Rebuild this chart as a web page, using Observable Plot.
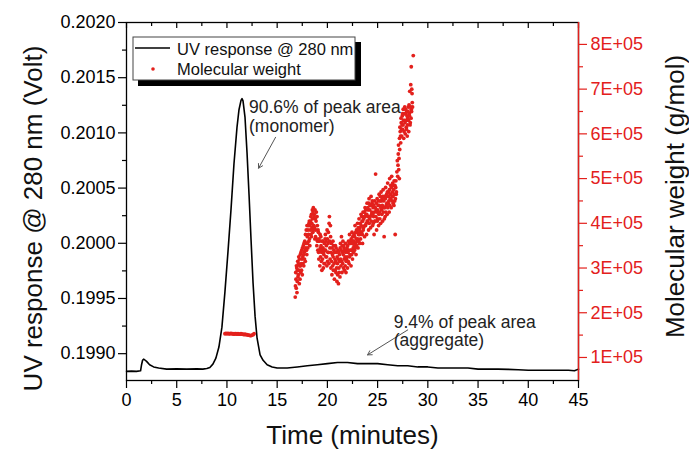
<!DOCTYPE html>
<html><head><meta charset="utf-8">
<script src="https://cdn.jsdelivr.net/npm/d3@7"></script>
<script src="https://cdn.jsdelivr.net/npm/@observablehq/plot@0.6"></script>
<style>
body{margin:0;background:#fff}
#wrap{position:relative;width:689px;height:450px}
#wrap svg{position:absolute;left:0;top:0}
</style>
</head><body><div id="wrap"></div>
<script>
// ---------- data ----------
const uvTime = [0,0.5,1.0,1.4,1.5,1.6,1.7,1.8,2.0,2.3,2.7,3.2,4,5,6,7,7.6,8.0,8.3,8.6,8.9,9.2,9.5,9.8,10.1,10.4,10.7,11.0,11.2,11.4,11.5,11.6,11.8,12.0,12.2,12.4,12.6,12.8,13.0,13.3,13.6,14.0,14.5,15,16,17,18,19,20,21,22,23,24,25,26,27,28,29,30,31,32,33,34,35,36,37,38,39,40,41,42,43,44,44.6,45];
const uvValue = [0.19884,0.198842,0.19884,0.198845,0.19890,0.19894,0.19895,0.198945,0.19893,0.19890,0.19888,0.19887,0.19886,0.198862,0.19886,0.198862,0.19886,0.198865,0.198875,0.198905,0.19896,0.19906,0.19924,0.19956,0.19992,0.20030,0.20072,0.20105,0.20121,0.201295,0.20131,0.20129,0.20114,0.20082,0.20044,0.20003,0.19964,0.19934,0.19914,0.19899,0.19894,0.19890,0.19888,0.19887,0.19887,0.19888,0.19889,0.19890,0.19891,0.19892,0.19892,0.19891,0.19891,0.19891,0.19890,0.19889,0.19889,0.19888,0.19888,0.19887,0.19887,0.19887,0.19887,0.19886,0.19886,0.19886,0.198858,0.198855,0.19885,0.19885,0.19885,0.19885,0.19885,0.198845,0.19886];

// molecular weight, in units of 1E+05 g/mol
const monoTime = [9.8,9.9,10.0,10.1,10.2,10.3,10.4,10.5,10.6,10.7,10.8,10.9,11.0,11.1,11.2,11.3,11.4,11.5,11.6,11.7,11.8,11.9,12.0,12.1,12.2,12.3,12.4,12.5,12.6,12.7];
const monoMW   = [1.53,1.54,1.53,1.54,1.53,1.53,1.54,1.53,1.53,1.52,1.53,1.53,1.52,1.53,1.52,1.52,1.53,1.52,1.52,1.51,1.52,1.51,1.51,1.50,1.50,1.49,1.49,1.50,1.51,1.53];

const aggTime = [16.80,16.85,16.90,16.95,17.00,17.05,17.10,17.15,17.20,17.25,17.30,17.35,17.40,17.45,17.50,17.55,17.60,17.65,17.70,17.75,17.80,17.85,17.90,17.95,18.00,18.05,18.10,18.15,18.20,18.25,18.30,18.35,18.40,18.45,18.50,18.55,18.60,18.65,18.70,18.75,18.80,18.85,18.90,18.95,19.00,19.05,19.10,19.15,19.20,19.25,19.30,19.35,19.40,19.45,19.50,19.55,19.60,19.65,19.70,19.75,19.80,19.85,19.90,19.95,20.00,20.05,20.10,20.15,20.20,20.25,20.30,20.35,20.40,20.45,20.50,20.55,20.60,20.65,20.70,20.75,20.80,20.85,20.90,20.95,21.00,21.05,21.10,21.15,21.20,21.25,21.30,21.35,21.40,21.45,21.50,21.55,21.60,21.65,21.70,21.75,21.80,21.85,21.90,21.95,22.00,22.05,22.10,22.15,22.20,22.25,22.30,22.35,22.40,22.45,22.50,22.55,22.60,22.65,22.70,22.75,22.80,22.85,22.90,22.95,23.00,23.05,23.10,23.15,23.20,23.25,23.30,23.35,23.40,23.45,23.50,23.55,23.60,23.65,23.70,23.75,23.80,23.85,23.90,23.95,24.00,24.05,24.10,24.15,24.20,24.25,24.30,24.35,24.40,24.45,24.50,24.55,24.60,24.65,24.70,24.75,24.80,24.85,24.90,24.95,25.00,25.05,25.10,25.15,25.20,25.25,25.30,25.35,25.40,25.45,25.50,25.55,25.60,25.65,25.70,25.75,25.80,25.85,25.90,25.95,26.00,26.05,26.10,26.15,26.20,26.25,26.30,26.35,26.40,26.45,26.50,26.55,26.60,26.65,26.70,26.75,26.80,26.85,27.00,27.03,27.06,27.10,27.13,27.16,27.20,27.25,27.30,27.35,27.40,27.45,27.50,27.55,27.60,27.65,27.70,27.75,27.80,27.85,27.90,27.95,28.00,28.05,28.10,28.15,28.20,28.25,28.30,28.35,28.40,28.45,28.35,28.55,
  16.82,16.87,16.92,16.97,17.02,17.07,17.12,17.17,17.22,17.27,17.32,17.37,17.42,17.47,17.52,17.57,17.62,17.67,17.72,17.77,17.82,17.87,17.92,17.97,18.02,18.07,18.12,18.17,18.22,18.27,18.32,18.37,18.42,18.47,18.52,18.57,18.62,18.67,18.72,18.77,18.82,18.87,18.92,18.97,19.02,19.07,19.12,19.17,19.22,19.27,19.32,19.37,19.42,19.47,19.52,19.57,19.62,19.67,19.72,19.77,19.82,19.87,19.92,19.97,20.02,20.07,20.12,20.17,20.22,20.27,20.32,20.37,20.42,20.47,20.52,20.57,20.62,20.67,20.72,20.77,20.82,20.87,20.92,20.97,21.02,21.07,21.12,21.17,21.22,21.27,21.32,21.37,21.42,21.47,21.52,21.57,21.62,21.67,21.72,21.77,21.82,21.87,21.92,21.97,22.02,22.07,22.12,22.17,22.22,22.27,22.32,22.37,22.42,22.47,22.52,22.57,22.62,22.67,22.72,22.77,22.82,22.87,22.92,22.97,23.02,23.07,23.12,23.17,23.22,23.27,23.32,23.37,23.42,23.47,23.52,23.57,23.62,23.67,23.72,23.77,23.82,23.87,23.92,23.97,24.02,24.07,24.12,24.17,24.22,24.27,24.32,24.37,24.42,24.47,24.52,24.57,24.62,24.67,24.72,24.77,24.82,24.87,24.92,24.97,25.02,25.07,25.12,25.17,25.22,25.27,25.32,25.37,25.42,25.47,25.52,25.57,25.62,25.67,25.72,25.77,25.82,25.87,25.92,25.97,26.02,26.07,26.12,26.17,26.22,26.27,26.32,26.37,26.42,26.47,26.52,26.57,26.62,26.67,26.72,26.77,26.82,26.87,26.92,26.96,27.08,27.18,27.22,27.28,27.33,27.38,27.43,27.48,27.53,27.58,27.63,27.68,27.73,27.78,27.83,27.88,27.93,27.98,28.03,28.08,28.13,28.18,28.23,28.28,28.33,28.38,28.43,28.48];
const aggMW   = [2.35,2.90,2.55,3.00,2.70,3.15,2.85,3.25,2.65,3.05,3.30,2.90,3.10,3.40,2.85,3.25,3.50,3.05,3.35,3.60,3.15,3.45,3.85,3.30,3.70,3.45,3.95,3.60,4.05,3.50,3.85,4.15,3.70,4.00,4.30,3.80,4.35,3.95,4.20,3.65,4.10,3.85,4.25,3.50,3.95,3.40,3.80,3.20,3.60,3.05,3.45,3.70,3.15,2.95,3.40,3.60,3.00,3.30,3.55,3.10,3.75,3.25,3.50,3.05,3.65,3.35,3.80,3.10,4.15,3.45,3.95,3.00,3.55,2.85,3.30,3.60,2.95,3.40,2.75,3.20,3.50,2.90,3.35,2.70,3.10,3.40,2.65,3.00,3.30,2.80,3.55,3.05,3.70,2.90,3.35,3.60,3.00,3.45,2.95,3.25,3.55,2.90,3.20,3.45,3.00,3.35,3.60,3.10,3.75,3.30,3.55,3.05,3.40,3.80,3.20,3.60,3.35,3.75,3.40,3.95,3.55,3.30,3.85,3.60,4.00,3.45,3.75,4.10,3.55,3.90,3.65,4.20,3.80,4.05,3.55,4.25,3.90,4.15,3.70,4.35,3.95,4.20,3.75,4.45,4.05,4.30,3.85,4.55,4.10,4.40,3.90,4.60,4.20,4.45,3.95,4.35,4.15,3.75,4.50,4.05,5.10,4.30,3.85,4.55,4.10,4.40,3.95,4.65,4.25,4.50,4.00,4.70,4.30,4.55,4.05,4.75,4.35,3.70,4.60,4.15,4.80,4.40,4.65,4.20,4.90,4.45,4.70,4.25,5.00,4.55,4.85,4.35,5.05,4.60,4.90,4.45,4.75,4.95,4.50,3.75,4.80,4.65,5.05,5.30,5.55,5.20,5.45,5.00,5.65,6.05,5.80,6.25,5.95,6.40,6.10,6.55,5.90,6.30,6.60,6.00,6.45,6.15,6.50,5.95,6.35,6.60,6.05,6.45,6.95,6.25,7.10,6.55,7.00,6.70,7.50,7.75,
  2.60,2.75,3.05,2.45,2.95,2.80,3.10,2.95,3.20,2.75,3.05,3.35,2.95,3.20,3.45,3.10,3.30,3.55,3.20,3.40,3.75,3.55,3.40,3.95,3.55,3.85,3.75,4.00,3.65,3.95,4.05,3.75,4.20,3.90,4.10,4.25,3.85,4.15,3.90,4.30,3.70,4.05,3.65,4.15,3.60,3.85,3.35,3.65,3.40,3.75,3.25,3.50,3.35,3.60,3.20,3.45,3.35,3.10,3.40,3.65,3.40,3.60,3.25,3.85,3.15,3.55,3.35,4.00,3.60,3.20,3.70,3.35,3.15,3.45,3.05,3.25,3.50,3.10,3.35,2.95,3.15,3.45,3.00,3.25,2.85,3.20,3.35,2.90,3.15,3.45,3.20,3.40,3.15,3.50,3.10,3.30,3.50,3.20,3.40,3.05,3.35,3.15,3.40,3.25,3.50,3.15,3.40,3.55,3.25,3.60,3.40,3.65,3.30,3.55,3.70,3.45,3.60,3.50,3.70,3.45,3.80,3.65,3.50,3.80,3.65,3.90,3.60,3.85,3.75,4.00,3.80,3.95,4.15,3.75,4.05,3.85,4.10,4.25,3.95,4.15,4.30,4.00,4.20,4.05,4.35,4.15,4.45,4.00,4.30,4.15,4.40,4.05,4.25,4.50,4.20,4.00,4.40,4.25,4.05,4.35,4.15,4.45,4.25,4.05,4.30,4.50,4.20,4.40,4.10,4.60,4.35,4.50,4.20,4.40,4.60,4.25,4.50,4.10,4.35,4.55,4.25,4.60,4.45,4.70,4.35,4.60,4.50,4.75,4.40,4.65,4.55,4.80,4.50,4.70,4.60,4.85,4.40,4.65,4.85,4.55,4.95,4.70,5.15,5.40,5.75,5.90,6.15,5.95,6.35,6.10,6.20,6.45,6.20,6.30,6.05,6.45,6.25,6.55,6.30,6.10,6.40,6.20,6.50,6.30,6.65,6.40,6.20,6.60,6.35,6.50,6.90,6.60];

const xMajor = [0,5,10,15,20,25,30,35,40,45];
const xMinor = [2.5,7.5,12.5,17.5,22.5,27.5,32.5,37.5,42.5];
const uvMajor = [0.1990,0.1995,0.2000,0.2005,0.2010,0.2015,0.2020];
const uvMinor = [0.19925,0.19975,0.20025,0.20075,0.20125,0.20175];
const mwMajor = [1,2,3,4,5,6,7,8];
const mwMinor = [1.5,2.5,3.5,4.5,5.5,6.5,7.5];

const annotations = [
  {t:12.2, v:0.201295, label:"90.6% of peak area\n(monomer)"},
  {t:26.6, v:0.199351, label:"9.4% of peak area\n(aggregate)"}
];
const arrows = [
  {t1:14.84, v1:0.20096, t2:13.15, v2:0.20068},
  {t1:28.0, v1:0.199215, t2:24.0, v2:0.198989}
];

// ---------- chart ----------
const red = "#e3201c";
const font = "'Liberation Sans', Arial, sans-serif";
const W = 689, H = 450;
const margins = {marginLeft:126, marginRight:111, marginTop:22, marginBottom:70};
const innerH = H - margins.marginTop - margins.marginBottom;

const uvData = uvTime.map((t,i)=>({t, v:uvValue[i]}));
const mwData = monoTime.map((t,i)=>({t, m:monoMW[i]}))
  .concat(aggTime.map((t,i)=>({t, m:aggMW[i]})));

const p1 = Plot.plot({
  width:W, height:H, ...margins,
  style:{fontFamily:font, background:"transparent", color:"black", overflow:"visible"},
  x:{domain:[0,45]},
  y:{domain:[0.198757,0.2020]},
  marks:[
    Plot.frame({stroke:"black", strokeWidth:1.3}),
    Plot.axisX(xMajor, {tickSize:8, tickPadding:5, fontSize:18, label:null, strokeWidth:1.2}),
    Plot.axisX(xMinor, {tickSize:4, tickFormat:()=>"", label:null, strokeWidth:1.2}),
    Plot.tickX(xMajor, {x:d=>d, insetBottom:innerH-6, stroke:"black", strokeWidth:1.2}),
    Plot.tickX(xMinor, {x:d=>d, insetBottom:innerH-4, stroke:"black", strokeWidth:1.2}),
    Plot.axisY(uvMajor, {tickSize:8, tickPadding:3, tickFormat:d3.format(".4f"), fontSize:18, label:null, strokeWidth:1.2}),
    Plot.axisY(uvMinor, {tickSize:4, tickFormat:()=>"", label:null, strokeWidth:1.2}),
    Plot.line(uvData, {x:"t", y:"v", stroke:"black", strokeWidth:1.6}),
    Plot.arrow(arrows, {x1:"t1", y1:"v1", x2:"t2", y2:"v2", stroke:"#555", strokeWidth:1, headLength:7}),
    Plot.text(annotations, {x:"t", y:"v", text:"label", textAnchor:"start", lineAnchor:"top", lineHeight:1.05, fontSize:17.5, fill:"#222"}),
    Plot.text(["Time (minutes)"], {text:d=>d, frameAnchor:"bottom", textAnchor:"middle", lineAnchor:"middle", dy:55, fontSize:26, fill:"#111"}),
    Plot.text(["UV response @ 280 nm (Volt)"], {text:d=>d, frameAnchor:"left", textAnchor:"middle", lineAnchor:"middle", rotate:-90, dx:-93, dy:17, fontSize:26, fill:"#111"}),
    Plot.text(["Molecular weight (g/mol)"], {text:d=>d, frameAnchor:"right", textAnchor:"middle", lineAnchor:"middle", rotate:-90, dx:97, dy:-5, fontSize:26, fill:"#111"})
  ]
});

const p2 = Plot.plot({
  width:W, height:H, ...margins,
  style:{fontFamily:font, background:"transparent", color:red, overflow:"visible"},
  x:{domain:[0,45], axis:null},
  y:{domain:[0.485,8.49]},
  marks:[
    Plot.ruleX([45], {stroke:red, strokeWidth:1.4}),
    Plot.axisY(mwMajor, {anchor:"right", tickSize:8, tickPadding:4, tickFormat:d=>d+"E+05", fontSize:18, label:null, strokeWidth:1.2}),
    Plot.axisY(mwMinor, {anchor:"right", tickSize:4, tickFormat:()=>"", label:null, strokeWidth:1.2}),
    Plot.dot(mwData, {x:"t", y:"m", r:1.9, fill:red, stroke:null})
  ]
});

const wrap = document.getElementById("wrap");
wrap.appendChild(p1);
wrap.appendChild(p2);

// legend (Origin-style box with drop shadow)
const lg = d3.select(p2).append("g").attr("font-family", font).attr("text-anchor","start");
lg.append("rect").attr("x",138).attr("y",42).attr("width",223).attr("height",44).attr("fill","black");
lg.append("rect").attr("x",133).attr("y",37).attr("width",222).attr("height",43).attr("fill","white").attr("stroke","#444").attr("stroke-width",1);
lg.append("line").attr("x1",135).attr("x2",170).attr("y1",48).attr("y2",48).attr("stroke","black").attr("stroke-width",1.6);
lg.append("text").attr("x",177).attr("y",55).attr("font-size",16.5).attr("fill","#111").attr("text-anchor","start").text("UV response @ 280 nm");
lg.append("circle").attr("cx",153).attr("cy",69).attr("r",1.8).attr("fill",red);
lg.append("text").attr("x",177).attr("y",75).attr("font-size",16.5).attr("fill","#111").attr("text-anchor","start").text("Molecular weight");
</script></body></html>
